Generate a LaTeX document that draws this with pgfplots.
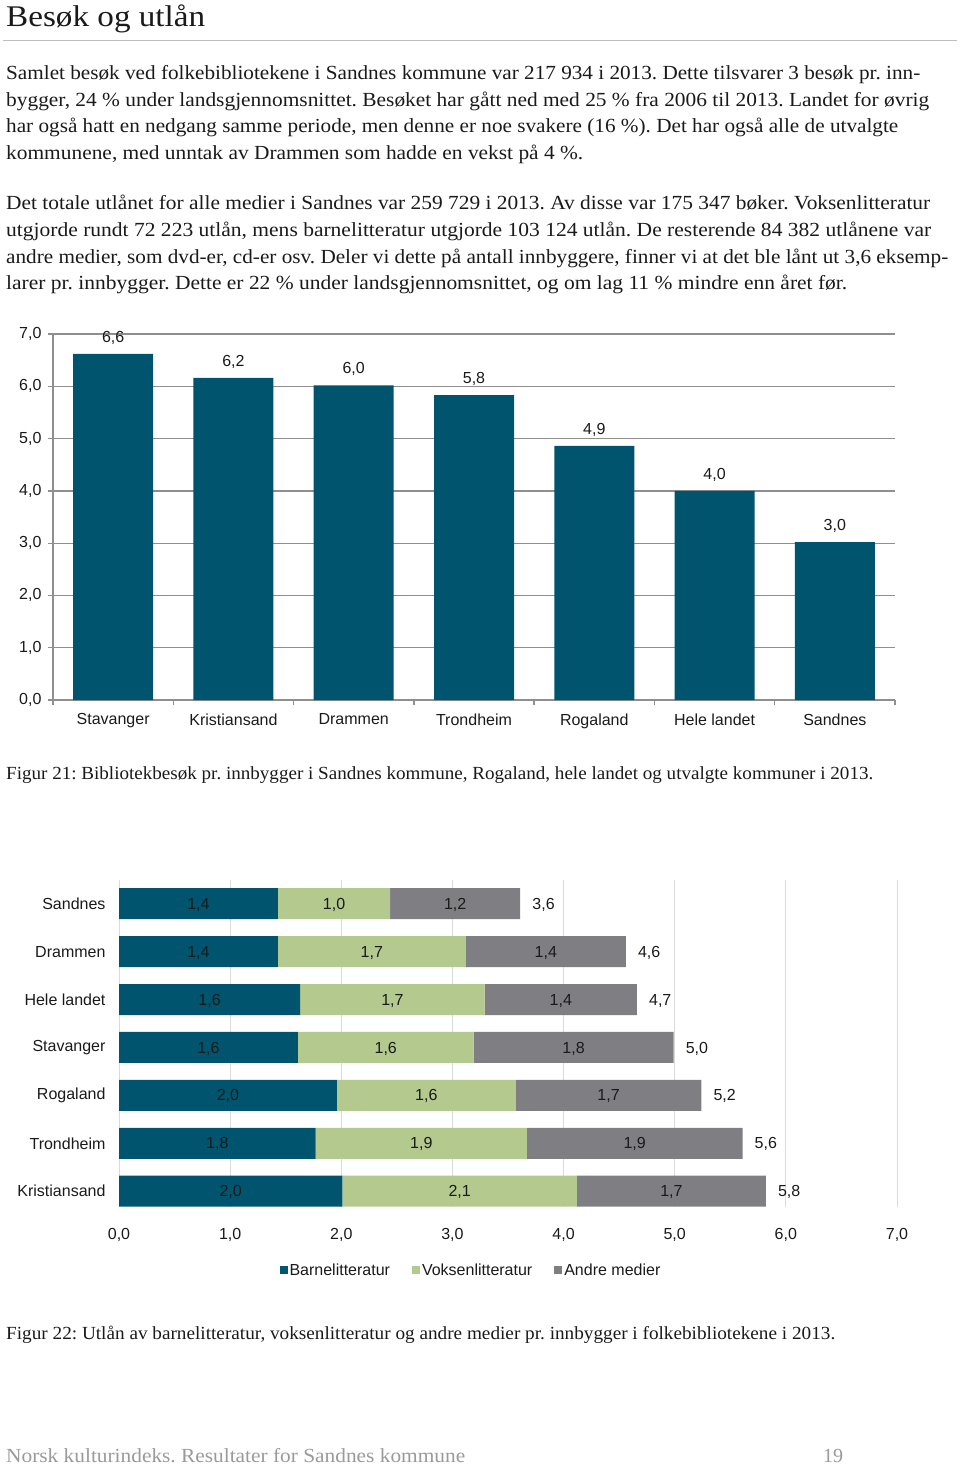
\documentclass[border=0pt]{standalone}
\usepackage{fontspec}
\usepackage{graphicx}
\usepackage{pgfplots}
\usepackage{pgfplotstable}
\pgfplotsset{compat=1.18}
\setmainfont{Liberation Serif}
\newfontfamily\cf{Liberation Sans}
\frenchspacing
\definecolor{teal1}{HTML}{00546E}
\definecolor{green1}{HTML}{B3C98E}
\definecolor{gray1}{HTML}{7F7F83}
\definecolor{txt}{HTML}{1A1A1A}
\definecolor{grid1}{HTML}{8F8F8F}
\definecolor{grid2}{HTML}{DADADA}
\definecolor{rule1}{HTML}{BEBEBE}
\definecolor{foot}{HTML}{9A9A9A}
\newcommand{\cfs}{\cf\fontsize{16pt}{19pt}\selectfont}
\newcommand{\tline}[3]{\node[anchor=base west, inner sep=0pt, text=txt, font=\fontsize{20pt}{24pt}\selectfont] at (6pt,-#1pt) {\resizebox{#2pt}{\height}{#3}};}
\newcommand{\capline}[3]{\node[anchor=base west, inner sep=0pt, text=txt, font=\fontsize{18.5pt}{22pt}\selectfont] at (6pt,-#1pt) {\resizebox{#2pt}{\height}{#3}};}
\pgfkeys{/pgf/number format/.cd, fixed, fixed zerofill, precision=1, use comma, assume math mode=true}
\tikzset{seg/.style={font=\cfs, text=txt, inner sep=0pt, yshift=-1pt}}
\pgfplotsset{sqlegend/.style={legend image code/.code={\fill[##1] (0pt,-4pt) rectangle (8pt,4pt);}}}
\pgfplotsset{chartII/.style={at={(119pt,-1207pt)}, anchor=south west, scale only axis,
  width=778pt, height=327.3pt, xmin=0, xmax=7, ymin=-0.5, ymax=6.33, y dir=reverse, clip=false}}

\pgfplotstableread{
idx val
0 6.62
1 6.16
2 6.02
3 5.83
4 4.86
5 4.00
6 3.02
}\visits

\pgfplotstableread{
idx barn voksen andre
0 1.43 1.01 1.17
1 1.43 1.69 1.44
2 1.63 1.66 1.37
3 1.61 1.58 1.80
4 1.96 1.61 1.67
5 1.77 1.90 1.94
6 2.01 2.11 1.70
}\loans

\begin{document}
\begin{tikzpicture}
\useasboundingbox (0pt,0pt) rectangle (960pt,-1466pt);

% title
\node[anchor=base west, inner sep=0pt, text=txt, font=\fontsize{30pt}{36pt}\selectfont] at (6pt,-27pt) {\resizebox{199pt}{\height}{Besøk og utlån}};
\draw[rule1, line width=1.5pt] (3pt,-40.7pt) -- (957pt,-40.7pt);

% paragraphs
\tline{80}{914}{Samlet besøk ved folkebibliotekene i Sandnes kommune var 217 934 i 2013. Dette tilsvarer 3 besøk pr. inn-}
\tline{106.5}{923}{bygger, 24 \% under landsgjennomsnittet. Besøket har gått ned med 25 \% fra 2006 til 2013. Landet for øvrig}
\tline{133}{892}{har også hatt en nedgang samme periode, men denne er noe svakere (16 \%). Det har også alle de utvalgte}
\tline{159.5}{577}{kommunene, med unntak av Drammen som hadde en vekst på 4 \%.}
\tline{210}{924}{Det totale utlånet for alle medier i Sandnes var 259 729 i 2013. Av disse var 175 347 bøker. Voksenlitteratur}
\tline{236.5}{925}{utgjorde rundt 72 223 utlån, mens barnelitteratur utgjorde 103 124 utlån. De resterende 84 382 utlånene var}
\tline{263}{942}{andre medier, som dvd-er, cd-er osv. Deler vi dette på antall innbyggere, finner vi at det ble lånt ut 3,6 eksemp-}
\tline{289.5}{841}{larer pr. innbygger. Dette er 22 \% under landsgjennomsnittet, og om lag 11 \% mindre enn året før.}

% captions
\capline{779}{867}{Figur 21: Bibliotekbesøk pr. innbygger i Sandnes kommune, Rogaland, hele landet og utvalgte kommuner i 2013.}
\capline{1339}{829}{Figur 22: Utlån av barnelitteratur, voksenlitteratur og andre medier pr. innbygger i folkebibliotekene i 2013.}

% footer
\node[anchor=base west, inner sep=0pt, text=foot, font=\fontsize{20pt}{24pt}\selectfont] at (6pt,-1462pt) {\resizebox{459pt}{\height}{Norsk kulturindeks. Resultater for Sandnes kommune}};
\node[anchor=base west, inner sep=0pt, text=foot, font=\fontsize{20pt}{24pt}\selectfont] at (823pt,-1462pt) {19};

% chart 1
\begin{axis}[
  at={(53pt,-700pt)}, anchor=south west, scale only axis,
  width=842pt, height=366pt,
  xmin=-0.5, xmax=6.5, ymin=0, ymax=7,
  ybar, bar width=80pt,
  axis x line*=bottom, axis y line*=left,
  axis line style={grid1, line width=1.3pt, -},
  ytick={0,...,7}, ymajorgrids,
  major grid style={grid1, line width=1.3pt},
  xtick={-0.5,0.5,...,6.5},
  xticklabels={Stavanger,Kristiansand,Drammen,Trondheim,Rogaland,Hele landet,Sandnes},
  x tick label as interval,
  tick align=outside, major tick length=5pt,
  tick style={grid1, line width=1.3pt},
  tick label style={font=\cfs, text=txt},
  yticklabel style={xshift=-3pt},
  xticklabel style={yshift=-5pt},
  clip=false,
]
\addplot[fill=teal1, draw=none,
  nodes near coords={\pgfmathprintnumber{\pgfplotspointmeta}},
  every node near coord/.append style={font=\cfs, text=txt, yshift=6pt}]
  table[x=idx, y=val] {\visits};
\end{axis}

% chart 2: bars
\begin{axis}[
  chartII,
  xbar stacked, bar width=31pt,
  xtick={0,...,7}, ytick={0,...,6},
  yticklabels={Sandnes,Drammen,Hele landet,Stavanger,Rogaland,Trondheim,Kristiansand},
  xmajorgrids, major grid style={grid2, line width=1pt},
  axis line style={draw=none}, tick style={draw=none},
  tick label style={font=\cfs, text=txt},
  xticklabel style={yshift=-18pt},
  yticklabel style={xshift=-10pt},
  legend columns=3,
  legend style={at={(0.4524,-0.1925)}, anchor=center, draw=none, fill=none,
    font=\cfs, text=txt,
    /tikz/every even column/.append style={column sep=20pt}},
]
\addplot[fill=teal1, draw=none, sqlegend] table[x=barn, y=idx] {\loans};
\addplot[fill=green1, draw=none, sqlegend] table[x=voksen, y=idx] {\loans};
\addplot[fill=gray1, draw=none, sqlegend] table[x=andre, y=idx] {\loans};
\legend{Barnelitteratur,Voksenlitteratur,Andre medier}
\end{axis}

% chart 2: value labels on top
\begin{axis}[chartII, hide axis]
\addplot[draw=none, mark=none, forget plot] table[x=barn, y=idx] {\loans};
\pgfplotsforeachungrouped \i in {0,...,6}{%
  \pgfplotstablegetelem{\i}{barn}\of\loans \let\vb\pgfplotsretval
  \pgfplotstablegetelem{\i}{voksen}\of\loans \let\vv\pgfplotsretval
  \pgfplotstablegetelem{\i}{andre}\of\loans \let\va\pgfplotsretval
  \pgfmathsetmacro\mb{\vb/2}%
  \pgfmathsetmacro\mv{\vb+\vv/2}%
  \pgfmathsetmacro\ma{\vb+\vv+\va/2}%
  \pgfmathsetmacro\mtot{\vb+\vv+\va}%
  \edef\temp{%
    \noexpand\node[seg] at (axis cs:\mb,\i) {\noexpand\pgfmathprintnumber{\vb}};
    \noexpand\node[seg] at (axis cs:\mv,\i) {\noexpand\pgfmathprintnumber{\vv}};
    \noexpand\node[seg] at (axis cs:\ma,\i) {\noexpand\pgfmathprintnumber{\va}};
    \noexpand\node[seg, anchor=west, xshift=12pt] at (axis cs:\mtot,\i) {\noexpand\pgfmathprintnumber{\mtot}};
  }%
  \temp
}
\end{axis}
\end{tikzpicture}
\end{document}
